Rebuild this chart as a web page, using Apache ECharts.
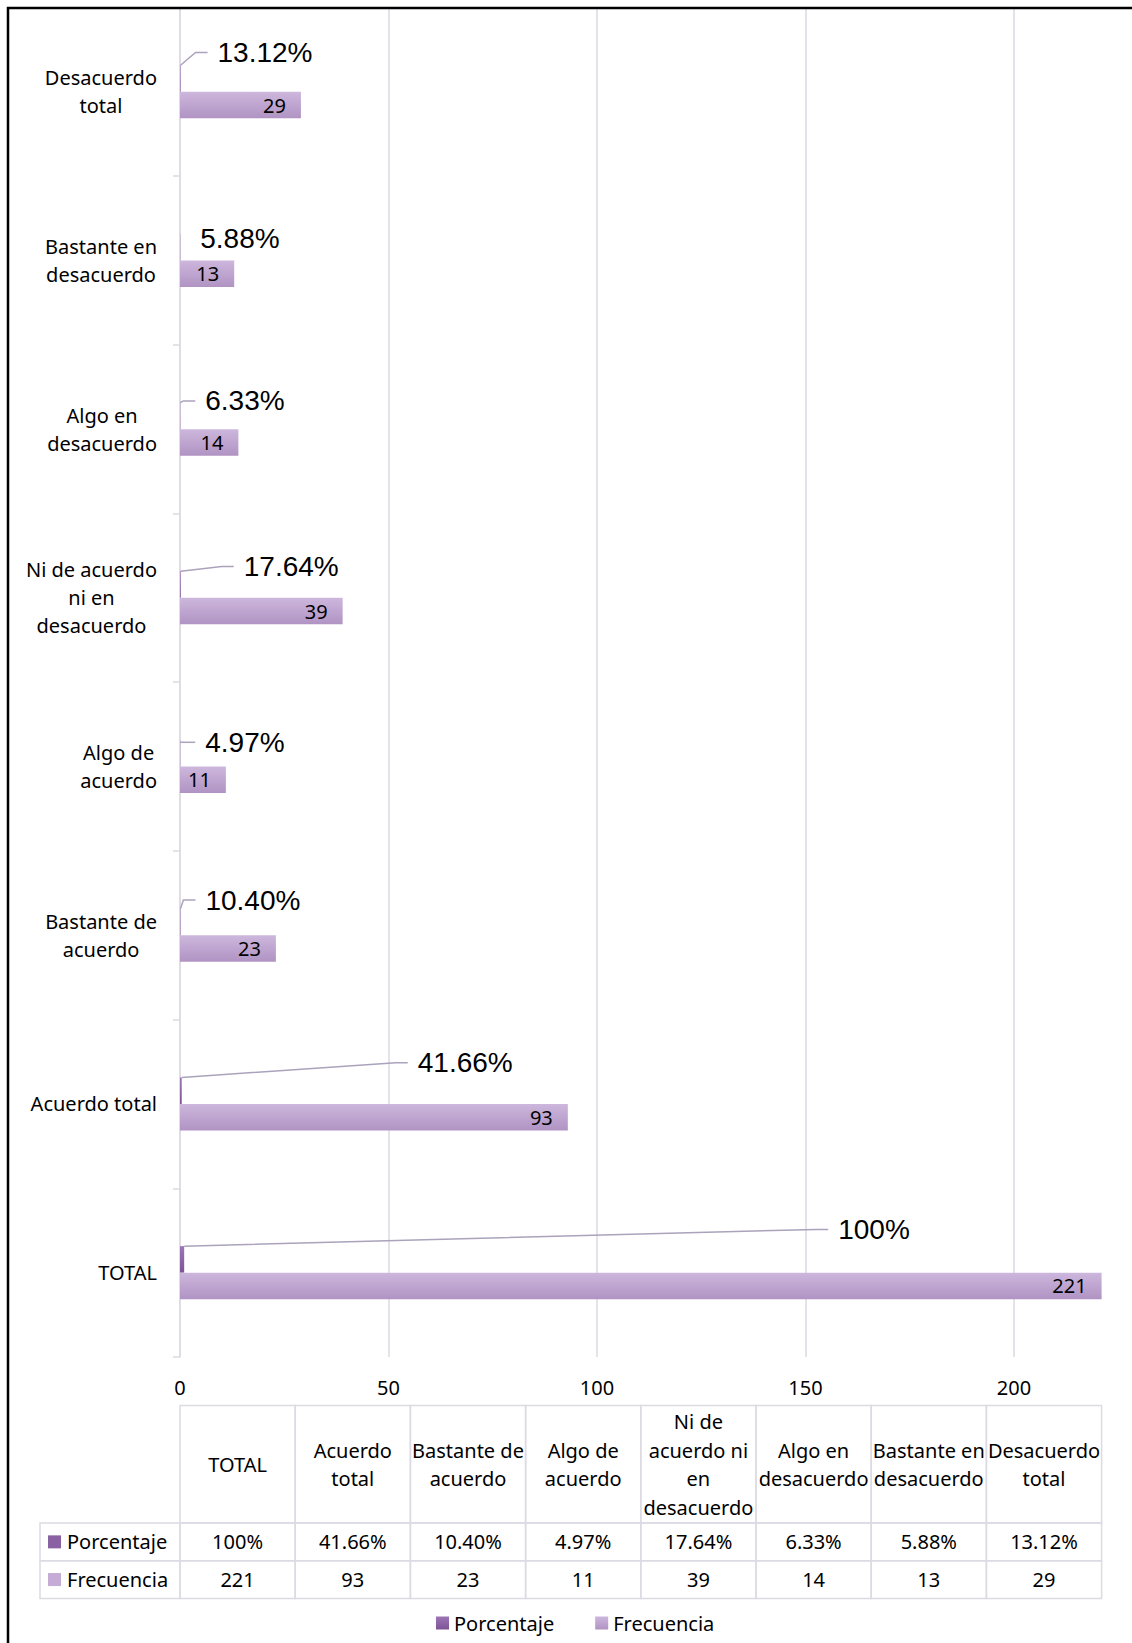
<!DOCTYPE html>
<html>
<head>
<meta charset="utf-8">
<script src="https://cdn.jsdelivr.net/npm/echarts@6/dist/echarts.min.js"></script>
<style>
html,body{margin:0;padding:0;background:#fff;}
#chart{width:1132px;height:1643px;}
</style>
</head>
<body>
<div id="chart"></div>
<script>
// ---------- data ----------
const categories = ['TOTAL', 'Acuerdo total', 'Bastante de acuerdo', 'Algo de acuerdo',
  'Ni de acuerdo ni en desacuerdo', 'Algo en desacuerdo', 'Bastante en desacuerdo', 'Desacuerdo total'];
const porcentaje = [1.0, 0.4166, 0.1040, 0.0497, 0.1764, 0.0633, 0.0588, 0.1312];
const frecuencia = [221, 93, 23, 11, 39, 14, 13, 29];
const seriesNames = ['Porcentaje', 'Frecuencia'];
const axisLabelText = ['TOTAL', 'Acuerdo total', 'Bastante de\nacuerdo', 'Algo de\nacuerdo',
  'Ni de acuerdo\nni en\ndesacuerdo', 'Algo en\ndesacuerdo', 'Bastante en\ndesacuerdo', 'Desacuerdo\ntotal'];
const tableHeaders = ['TOTAL', 'Acuerdo\ntotal', 'Bastante de\nacuerdo', 'Algo de\nacuerdo',
  'Ni de\nacuerdo ni\nen\ndesacuerdo', 'Algo en\ndesacuerdo', 'Bastante en\ndesacuerdo', 'Desacuerdo\ntotal'];
const xMin = 0, xMax = 221, xStep = 50;

// ---------- styles ----------
const FONT = '"Noto Sans", "Open Sans", sans-serif';
const GRIDC = '#dcdae2';
const colPct = new echarts.graphic.LinearGradient(0, 0, 0, 1, [{offset: 0, color: '#9d76b6'}, {offset: 1, color: '#7d5396'}]);
const colFrq = new echarts.graphic.LinearGradient(0, 0, 0, 1, [{offset: 0, color: '#cdb7dd'}, {offset: 1, color: '#b093c3'}]);
const solidCols = ['#8a62a4', '#c4acd6'];
// label offsets (dx, dy) from the bar end, for the percentage call-outs
const pctLabelShift = [[654, -30], [236, -28], [25, -22], [25, -11], [63, -18], [25, -15], [20, -9], [37, -26]];
const noGuide = [6];
const LABEL_GAP = 10;

function fmtPct(v) { return v >= 1 ? '100%' : (v * 100).toFixed(2) + '%'; }

const HEADER_H = 117.5, ROWHEAD_W = 140;

function renderTable(params, api) {
  const ci = api.value(0), ri = api.value(1), v = api.value(2);
  const c = api.coord([ci, ri]);
  const s = api.size([1, 1]);
  const x = c[0] - s[0] / 2, y = c[1] - s[1] / 2, w = s[0], h = s[1];
  const txt = {fontSize: 20, fontFamily: FONT, fill: '#000'};
  const ch = [
    {type: 'rect', shape: {x: x, y: y, width: w, height: h}, style: {fill: 'none', stroke: GRIDC, lineWidth: 1.5}},
    {type: 'text', style: Object.assign({text: ri === 0 ? fmtPct(v) : String(v), x: c[0], y: c[1], align: 'center', verticalAlign: 'middle'}, txt)}
  ];
  if (ri === 0) {
    ch.push({type: 'rect', shape: {x: x, y: y - HEADER_H, width: w, height: HEADER_H}, style: {fill: 'none', stroke: GRIDC, lineWidth: 1.5}});
    ch.push({type: 'text', style: Object.assign({text: tableHeaders[ci], x: c[0], y: y - HEADER_H / 2, align: 'center', verticalAlign: 'middle', lineHeight: 28.5}, txt)});
  }
  if (ci === 0) {
    ch.push({type: 'rect', shape: {x: x - ROWHEAD_W, y: y, width: ROWHEAD_W, height: h}, style: {fill: 'none', stroke: GRIDC, lineWidth: 1.5}});
    ch.push({type: 'rect', shape: {x: x - ROWHEAD_W + 8, y: c[1] - 6.5, width: 13, height: 13}, style: {fill: solidCols[ri]}});
    ch.push({type: 'text', style: Object.assign({text: seriesNames[ri], x: x - ROWHEAD_W + 27, y: c[1], align: 'left', verticalAlign: 'middle'}, txt)});
  }
  return {type: 'group', children: ch};
}

const tableData = [];
categories.forEach((c, i) => {
  tableData.push([i, 0, porcentaje[i]]);
  tableData.push([i, 1, frecuencia[i]]);
});

const pctSeriesData = porcentaje.map((v, i) => noGuide.indexOf(i) >= 0 ? {value: v, labelLine: {show: false}} : v);

const chart = echarts.init(document.getElementById('chart'), null, {renderer: 'svg'});
chart.setOption({
  animation: false,
  backgroundColor: '#fff',
  graphic: [{
    type: 'rect', shape: {x: 8, y: 8, width: 1400, height: 1900},
    style: {fill: 'none', stroke: '#000', lineWidth: 2.5}, z: 100, silent: true
  }],
  legend: {
    data: seriesNames, left: 431, top: 1608, icon: 'rect', itemWidth: 13, itemHeight: 13,
    itemGap: 41, textStyle: {fontSize: 20, fontFamily: FONT, color: '#000'}
  },
  grid: [
    {left: 180, right: 30.4, top: 7.4, bottom: 286, containLabel: false},
    {left: 180, right: 30.4, top: 1523, height: 75.4, containLabel: false}
  ],
  xAxis: [{
    type: 'value', min: xMin, max: xMax, interval: xStep, gridIndex: 0,
    axisLine: {show: false}, axisTick: {show: false},
    axisLabel: {fontSize: 20, fontFamily: FONT, color: '#000', margin: 20, showMaxLabel: false},
    splitLine: {show: true, showMaxLine: false, lineStyle: {color: GRIDC, width: 1.5}}
  }, {
    type: 'category', data: categories, gridIndex: 1, show: false
  }],
  yAxis: [{
    type: 'category', data: categories, gridIndex: 0,
    axisLine: {show: true, lineStyle: {color: GRIDC, width: 1.5}},
    axisTick: {show: true, length: 7, lineStyle: {color: GRIDC, width: 1.5}},
    axisLabel: {
      margin: 23, align: 'right', color: '#000',
      formatter: (v, i) => axisLabelText[i].split('\n').map(l => '{c|' + l + '}').join('\n'),
      rich: {c: {align: 'center', fontSize: 20, fontFamily: FONT, lineHeight: 28, color: '#000'}}
    }
  }, {
    type: 'category', data: seriesNames, inverse: true, gridIndex: 1, show: false
  }],
  series: [{
    name: seriesNames[0], type: 'bar', data: pctSeriesData, barWidth: 26.5, barGap: '0%',
    itemStyle: {color: colPct},
    label: {show: true, position: 'right', formatter: p => fmtPct(p.value), padding: [0, 0, 0, LABEL_GAP],
      backgroundColor: 'rgba(255,255,255,0)',
      fontSize: 28, fontFamily: '"Liberation Sans", Arial, sans-serif', color: '#000'},
    labelLine: {show: true, length2: 12, lineStyle: {color: '#aaa3bb', width: 1.5}},
    labelLayout: function (p) {
      const sh = pctLabelShift[p.dataIndex];
      const bx = p.rect.x + p.rect.width, by = p.rect.y + p.rect.height / 2;
      return {x: bx + sh[0] - LABEL_GAP, y: by + sh[1], align: 'left', verticalAlign: 'middle'};
    }
  }, {
    name: seriesNames[1], type: 'bar', data: frecuencia, barWidth: 26.5, barGap: '0%',
    itemStyle: {color: colFrq},
    label: {show: true, position: 'insideRight', distance: 15, fontSize: 20, fontFamily: FONT, color: '#000'}
  }, {
    type: 'custom', coordinateSystem: 'cartesian2d', xAxisIndex: 1, yAxisIndex: 1,
    renderItem: renderTable, data: tableData, silent: true, encode: {x: 0, y: 1}
  }]
});
</script>
</body>
</html>
